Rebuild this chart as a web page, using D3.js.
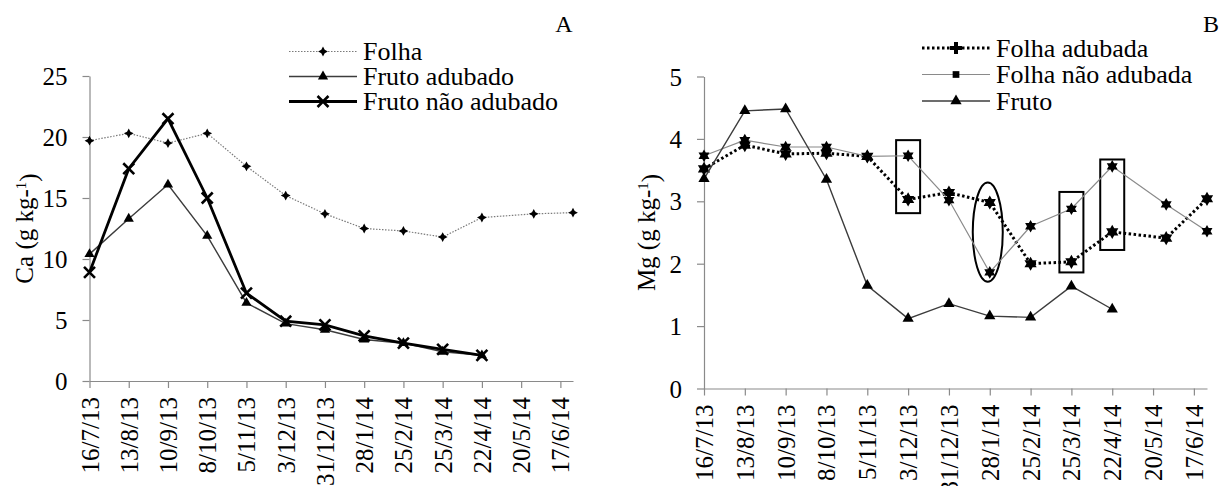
<!DOCTYPE html>
<html>
<head>
<meta charset="utf-8">
<script src="https://cdn.jsdelivr.net/npm/d3@7"></script>
<style>
  body { margin: 0; background: #fff; }
</style>
</head>
<body>
<svg id="chart" width="1225" height="486"></svg>
<script>
// sampling dates (the last two fall between the axis ticks)
const sampleDates = ["16/7/13", "13/8/13", "10/9/13", "8/10/13", "5/11/13", "3/12/13", "31/12/13",
  "28/1/14", "25/2/14", "25/3/14", "22/4/14", "29/5/14", "26/6/14"];
// axis ticks every 28 days
const tickLabels = ["16/7/13", "13/8/13", "10/9/13", "8/10/13", "5/11/13", "3/12/13", "31/12/13",
  "28/1/14", "25/2/14", "25/3/14", "22/4/14", "20/5/14", "17/6/14"];

// A - Ca (g kg-1)
const caFolha = [19.7, 20.3, 19.5, 20.3, 17.6, 15.2, 13.7, 12.5, 12.3, 11.8, 13.4, 13.7, 13.8];
const caFrutoAdubado = [10.4, 13.3, 16.1, 11.9, 6.4, 4.7, 4.2, 3.4, 3.1, 2.4, 2.1];
const caFrutoNaoAdubado = [8.9, 17.4, 21.5, 15.0, 7.2, 4.9, 4.6, 3.7, 3.1, 2.6, 2.1];
const caTicks = [0, 5, 10, 15, 20, 25];

// B - Mg (g kg-1)
const mgFolhaAdubada = [3.52, 3.9, 3.76, 3.77, 3.72, 3.03, 3.14, 2.98, 2.0, 2.03, 2.51, 2.41, 3.04];
const mgFolhaNaoAdubada = [3.73, 3.98, 3.87, 3.87, 3.72, 3.73, 3.02, 1.86, 2.6, 2.88, 3.56, 2.95, 2.52];
const mgFruto = [3.36, 4.45, 4.48, 3.35, 1.65, 1.12, 1.36, 1.16, 1.14, 1.64, 1.27];
const mgTicks = [0, 1, 2, 3, 4, 5];

// highlighted samples in B: [date, low, high]
const mgBoxes = [["3/12/13", 2.81, 3.98], ["25/3/14", 1.86, 3.15], ["22/4/14", 2.22, 3.67]];
const mgEllipses = [["28/1/14", 1.71, 3.30]];

const FONT = "'Liberation Serif', 'Times New Roman', Times, serif";
const parse = d3.utcParse("%d/%m/%y");
const dates = sampleDates.map(parse);
const ticks = tickLabels.map(parse);
const fmt = d3.utcFormat("%-d/%-m/%y");

const svg = d3.select("#chart");

// custom marker shapes
const star4 = { draw(ctx, size) {
  const r = Math.sqrt(size), k = r * 0.35;
  ctx.moveTo(0, -r); ctx.lineTo(k, -k); ctx.lineTo(r, 0); ctx.lineTo(k, k);
  ctx.lineTo(0, r); ctx.lineTo(-k, k); ctx.lineTo(-r, 0); ctx.lineTo(-k, -k); ctx.closePath();
}};
const hexagram = { draw(ctx, size) {
  const r = Math.sqrt(size);
  ctx.moveTo(0, -r); ctx.lineTo(r * 0.866, r * 0.5); ctx.lineTo(-r * 0.866, r * 0.5); ctx.closePath();
  ctx.moveTo(0, r); ctx.lineTo(-r * 0.866, -r * 0.5); ctx.lineTo(r * 0.866, -r * 0.5); ctx.closePath();
}};
const xMark = { draw(ctx, size) {
  const r = Math.sqrt(size);
  ctx.moveTo(-r, -r); ctx.lineTo(r, r); ctx.moveTo(-r, r); ctx.lineTo(r, -r);
}};

function txt(sel, size) {
  return sel.attr("font-family", null).style("font-family", FONT).style("font-size", size + "px").attr("fill", "#000");
}

function drawPanel(cfg) {
  const x = d3.scaleUtc().domain([dates[0], dates[dates.length - 1]]).range(cfg.xRange);
  const y = d3.scaleLinear().domain([0, cfg.yMax]).range(cfg.yRange);
  const g = svg.append("g");

  // y axis
  const ya = g.append("g")
    .attr("transform", `translate(${cfg.xRange[0]},0)`)
    .call(d3.axisLeft(y).tickValues(cfg.yTicks).tickFormat(d3.format("d"))
      .tickSize(7).tickSizeOuter(0).tickPadding(15));
  ya.attr("font-family", null);
  txt(ya.selectAll("text"), 25).attr("dy", "0.34em");

  // x axis
  const xa = g.append("g")
    .attr("transform", `translate(0,${cfg.yRange[0]})`)
    .call(d3.axisBottom(x).tickValues(ticks).tickFormat(fmt).tickSize(7).tickSizeOuter(0));
  xa.attr("font-family", null);
  txt(xa.selectAll("text"), 25)
    .attr("transform", "rotate(-90)")
    .attr("text-anchor", "end")
    .attr("x", -16).attr("y", 0).attr("dy", "0.34em");
  g.selectAll(".domain, .tick line").attr("stroke", "#8a8a8a").attr("stroke-width", 1.2);

  // axis title
  const t = txt(g.append("text"), 25)
    .attr("transform", `translate(${cfg.titleX},${(cfg.yRange[0] + cfg.yRange[1]) / 2}) rotate(-90)`)
    .attr("text-anchor", "middle").attr("dy", "0.34em");
  t.append("tspan").text(cfg.title + " (g kg-");
  t.append("tspan").text("1").attr("dy", "-0.45em").style("font-size", "15px");
  t.append("tspan").text(")").attr("dy", "0.45em");

  // annotations
  (cfg.boxes || []).forEach(b => {
    const cx = x(parse(b[0]));
    g.append("rect").attr("x", cx - 12).attr("width", 24)
      .attr("y", y(b[2])).attr("height", y(b[1]) - y(b[2]))
      .attr("fill", "none").attr("stroke", "#000").attr("stroke-width", 2);
  });
  (cfg.ellipses || []).forEach(e => {
    g.append("ellipse").attr("cx", x(parse(e[0])) - 2).attr("rx", 15)
      .attr("cy", (y(e[1]) + y(e[2])) / 2).attr("ry", (y(e[1]) - y(e[2])) / 2)
      .attr("fill", "none").attr("stroke", "#000").attr("stroke-width", 2);
  });

  // series
  cfg.series.forEach(s => {
    const pts = s.values.map((v, i) => [dates[i], v]);
    g.append("path").datum(pts)
      .attr("fill", "none").attr("stroke", s.color).attr("stroke-width", s.width)
      .attr("stroke-dasharray", s.dash || null)
      .attr("d", d3.line().x(d => x(d[0])).y(d => y(d[1])));
    g.selectAll(null).data(pts).enter().append("path")
      .attr("transform", d => `translate(${x(d[0])},${y(d[1])})`)
      .attr("d", d3.symbol(s.shape, s.size)())
      .attr("fill", s.stroked ? "none" : "#000")
      .attr("stroke", s.stroked ? "#000" : "none")
      .attr("stroke-width", s.stroked ? 2.6 : 0);
  });

  // legend
  cfg.series.forEach((s, i) => {
    const ly = cfg.legend.y + i * cfg.legend.step;
    const lx = cfg.legend.x;
    g.append("line").attr("x1", lx).attr("x2", lx + 68).attr("y1", ly).attr("y2", ly)
      .attr("stroke", s.color).attr("stroke-width", s.width).attr("stroke-dasharray", s.dash || null);
    g.append("path").attr("transform", `translate(${lx + 34},${ly})`)
      .attr("d", d3.symbol(s.legendShape || s.shape, s.legendSize || s.size)())
      .attr("fill", s.stroked ? "none" : "#000")
      .attr("stroke", s.stroked ? "#000" : "none")
      .attr("stroke-width", s.stroked ? 2.6 : 0);
    txt(g.append("text"), 26).attr("x", lx + 74).attr("y", ly).attr("dy", "0.34em").text(s.name);
  });

  txt(g.append("text"), 24).attr("x", cfg.letter[0]).attr("y", cfg.letter[1])
    .attr("text-anchor", "middle").text(cfg.letter[2]);
}

drawPanel({
  xRange: [89.5, 573], yRange: [381, 76], yMax: 25, yTicks: caTicks,
  title: "Ca", titleX: 24, letter: [564, 32, "A"],
  legend: { x: 289, y: 51.5, step: 25 },
  series: [
    { name: "Folha", values: caFolha, color: "#7a7a7a", width: 1.2, dash: "1.5,1.5", shape: star4, size: 24 },
    { name: "Fruto adubado", values: caFrutoAdubado, color: "#3c3c3c", width: 1.4, shape: d3.symbolTriangle, size: 45 },
    { name: "Fruto não adubado", values: caFrutoNaoAdubado, color: "#000", width: 2.8, shape: xMark, size: 30, stroked: true }
  ]
});

drawPanel({
  xRange: [704, 1207], yRange: [388.5, 76.5], yMax: 5, yTicks: mgTicks,
  title: "Mg", titleX: 646, letter: [1211, 32, "B"],
  boxes: mgBoxes, ellipses: mgEllipses,
  legend: { x: 922, y: 48, step: 26.5 },
  series: [
    { name: "Folha adubada", values: mgFolhaAdubada, color: "#000", width: 3, dash: "2.5,2.5",
      shape: hexagram, size: 50, legendShape: d3.symbolCross, legendSize: 80 },
    { name: "Folha não adubada", values: mgFolhaNaoAdubada, color: "#8a8a8a", width: 1.2,
      shape: hexagram, size: 40, legendShape: d3.symbolSquare, legendSize: 45 },
    { name: "Fruto", values: mgFruto, color: "#3c3c3c", width: 1.4, shape: d3.symbolTriangle, size: 55 }
  ]
});
</script>
</body>
</html>
